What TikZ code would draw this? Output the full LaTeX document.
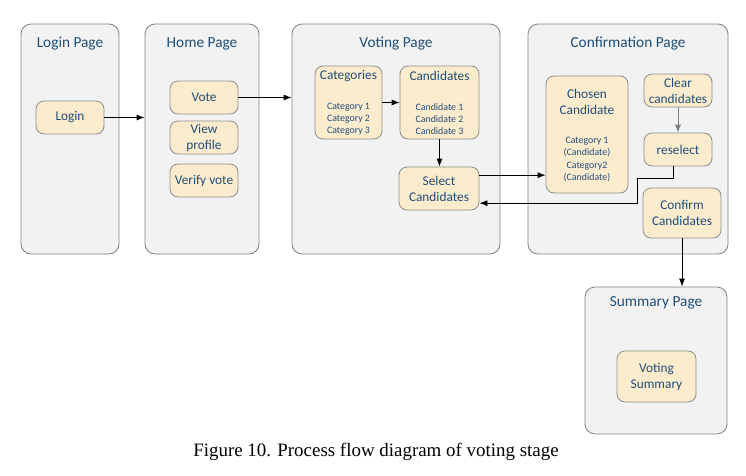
\documentclass[tikz,border=0pt]{standalone}
\usepackage{fontspec}
\setmainfont{Carlito}
\newfontfamily\capfont{Liberation Serif}
\usetikzlibrary{arrows.meta}

\definecolor{pagefill}{RGB}{242,242,242}
\definecolor{pageline}{RGB}{128,128,128}
\definecolor{itemfill}{RGB}{252,236,205}
\definecolor{itemline}{RGB}{140,140,140}
\definecolor{textblue}{RGB}{31,78,121}

\tikzset{every picture/.style={line width=0.75pt}}
\tikzset{
  page/.style={draw=pageline, fill=pagefill, rounded corners=7.5pt, line width=0.6pt},
  pagetitle/.style={text=textblue, font=\fontsize{11.5}{13}\selectfont},
  item/.style={draw=itemline, fill=itemfill, rounded corners=6pt, line width=0.6pt,
    text=textblue, align=center, font=\fontsize{10}{12}\selectfont, inner sep=0pt},
  smalltext/.style={text=textblue, align=center, font=\fontsize{7.4}{9.2}\selectfont},
  arr/.style={-{Latex[length=6pt,width=4.5pt]}, line width=0.6pt}
}

\begin{document}
\begin{tikzpicture}[x=0.75pt,y=0.75pt,yscale=-1,xscale=1]
	\useasboundingbox (0,0) rectangle (746,475);

	%Shape: Pages
	\node[page, minimum width=73.5pt, minimum height=172.5pt] (loginPage) at (70,139) {};
	\node[page, minimum width=85.5pt, minimum height=172.5pt] (homePage) at (202,139) {};
	\node[page, minimum width=156pt, minimum height=172.5pt] (votingPage) at (396,139) {};
	\node[page, minimum width=150pt, minimum height=172.5pt] (confPage) at (628,139) {};
	\node[page, minimum width=106.5pt, minimum height=110.25pt] (summaryPage) at (656,360.5) {};

	% Text Node
	\node[pagetitle] (loginTitle) at (70,44) {Login Page};
	\node[pagetitle] (homeTitle) at (202,44) {Home Page};
	\node[pagetitle] (votingTitle) at (396,44) {Voting Page};
	\node[pagetitle] (confTitle) at (628,44) {Confirmation Page};
	\node[pagetitle] (summaryTitle) at (656,303) {Summary Page};

	%Shape: Items
	\node[item, minimum width=51pt, minimum height=24.75pt] (login) at (70,117.5) {Login};
	\node[item, minimum width=51pt, minimum height=24.75pt] (vote) at (204,97.5) {Vote};
	\node[item, minimum width=51pt, minimum height=24.75pt] (profile) at (204,137.5) {View\\profile};
	\node[item, minimum width=51pt, minimum height=24.75pt] (verify) at (204,180.5) {Verify vote};
	\node[item, minimum width=50.25pt, minimum height=54.75pt] (categories) at (348.5,102.5) {};
	\node[item, minimum width=59.25pt, minimum height=54.75pt] (candidates) at (439.5,102.5) {};
	\node[item, minimum width=60pt, minimum height=32.25pt] (select) at (439,188.5) {Select\\Candidates};
	\node[item, minimum width=61.5pt, minimum height=87.75pt] (chosen) at (587,134.5) {};
	\node[item, minimum width=51pt, minimum height=24.75pt] (clear) at (678,90.5) {Clear\\candidates};
	\node[item, minimum width=51pt, minimum height=24.75pt] (reselect) at (678,149.5) {reselect};
	\node[item, minimum width=58.5pt, minimum height=37.5pt] (confirm) at (682,213) {Confirm\\Candidates};
	\node[item, minimum width=59.25pt, minimum height=38.25pt] (votingSummary) at (656.5,376.5) {Voting\\Summary};

	% Text Node
	\node[item, draw=none, fill=none] (categoriesHead) at (348.5,76) {Categories};
	\node[smalltext] (categoriesList) at (348.5,119) {Category 1\\Category 2\\Category 3};
	\node[item, draw=none, fill=none] (candidatesHead) at (439.5,76) {Candidates};
	\node[smalltext] (candidatesList) at (439.5,119) {Candidate 1\\Candidate 2\\Candidate 3};
	\node[item, draw=none, fill=none] (chosenHead) at (587,102) {Chosen\\Candidate};
	\node[smalltext] (chosenList) at (587,159.5) {Category 1\\(Candidate)\\Category2\\(Candidate)};

	%Straight Lines
	\draw[arr] (login) -- (login -| homePage.west);
	\draw[arr] (vote) -- (vote -| votingPage.west);
	\draw[arr] (categories) -- (candidates);
	\draw[arr] (candidates) -- (candidates |- select.north);
	\draw[arr] ([yshift=-10pt]select.east) -- ([yshift=-10pt]select.east -| chosen.west);
	\draw[arr, draw=gray] (clear) -- (reselect);
	\coordinate (bend) at (637,178);
	\draw[arr] ([xshift=-3.75pt]reselect.south) |- (bend) |- ([yshift=11pt]select.east);
	\draw[arr] (confirm) -- (confirm |- summaryPage.north);

	% Text Node
	\node[font=\capfont\fontsize{14.2}{16}\selectfont] (caption) at (376,452) {Figure 10. Process flow diagram of voting stage};

\end{tikzpicture}
\end{document}
